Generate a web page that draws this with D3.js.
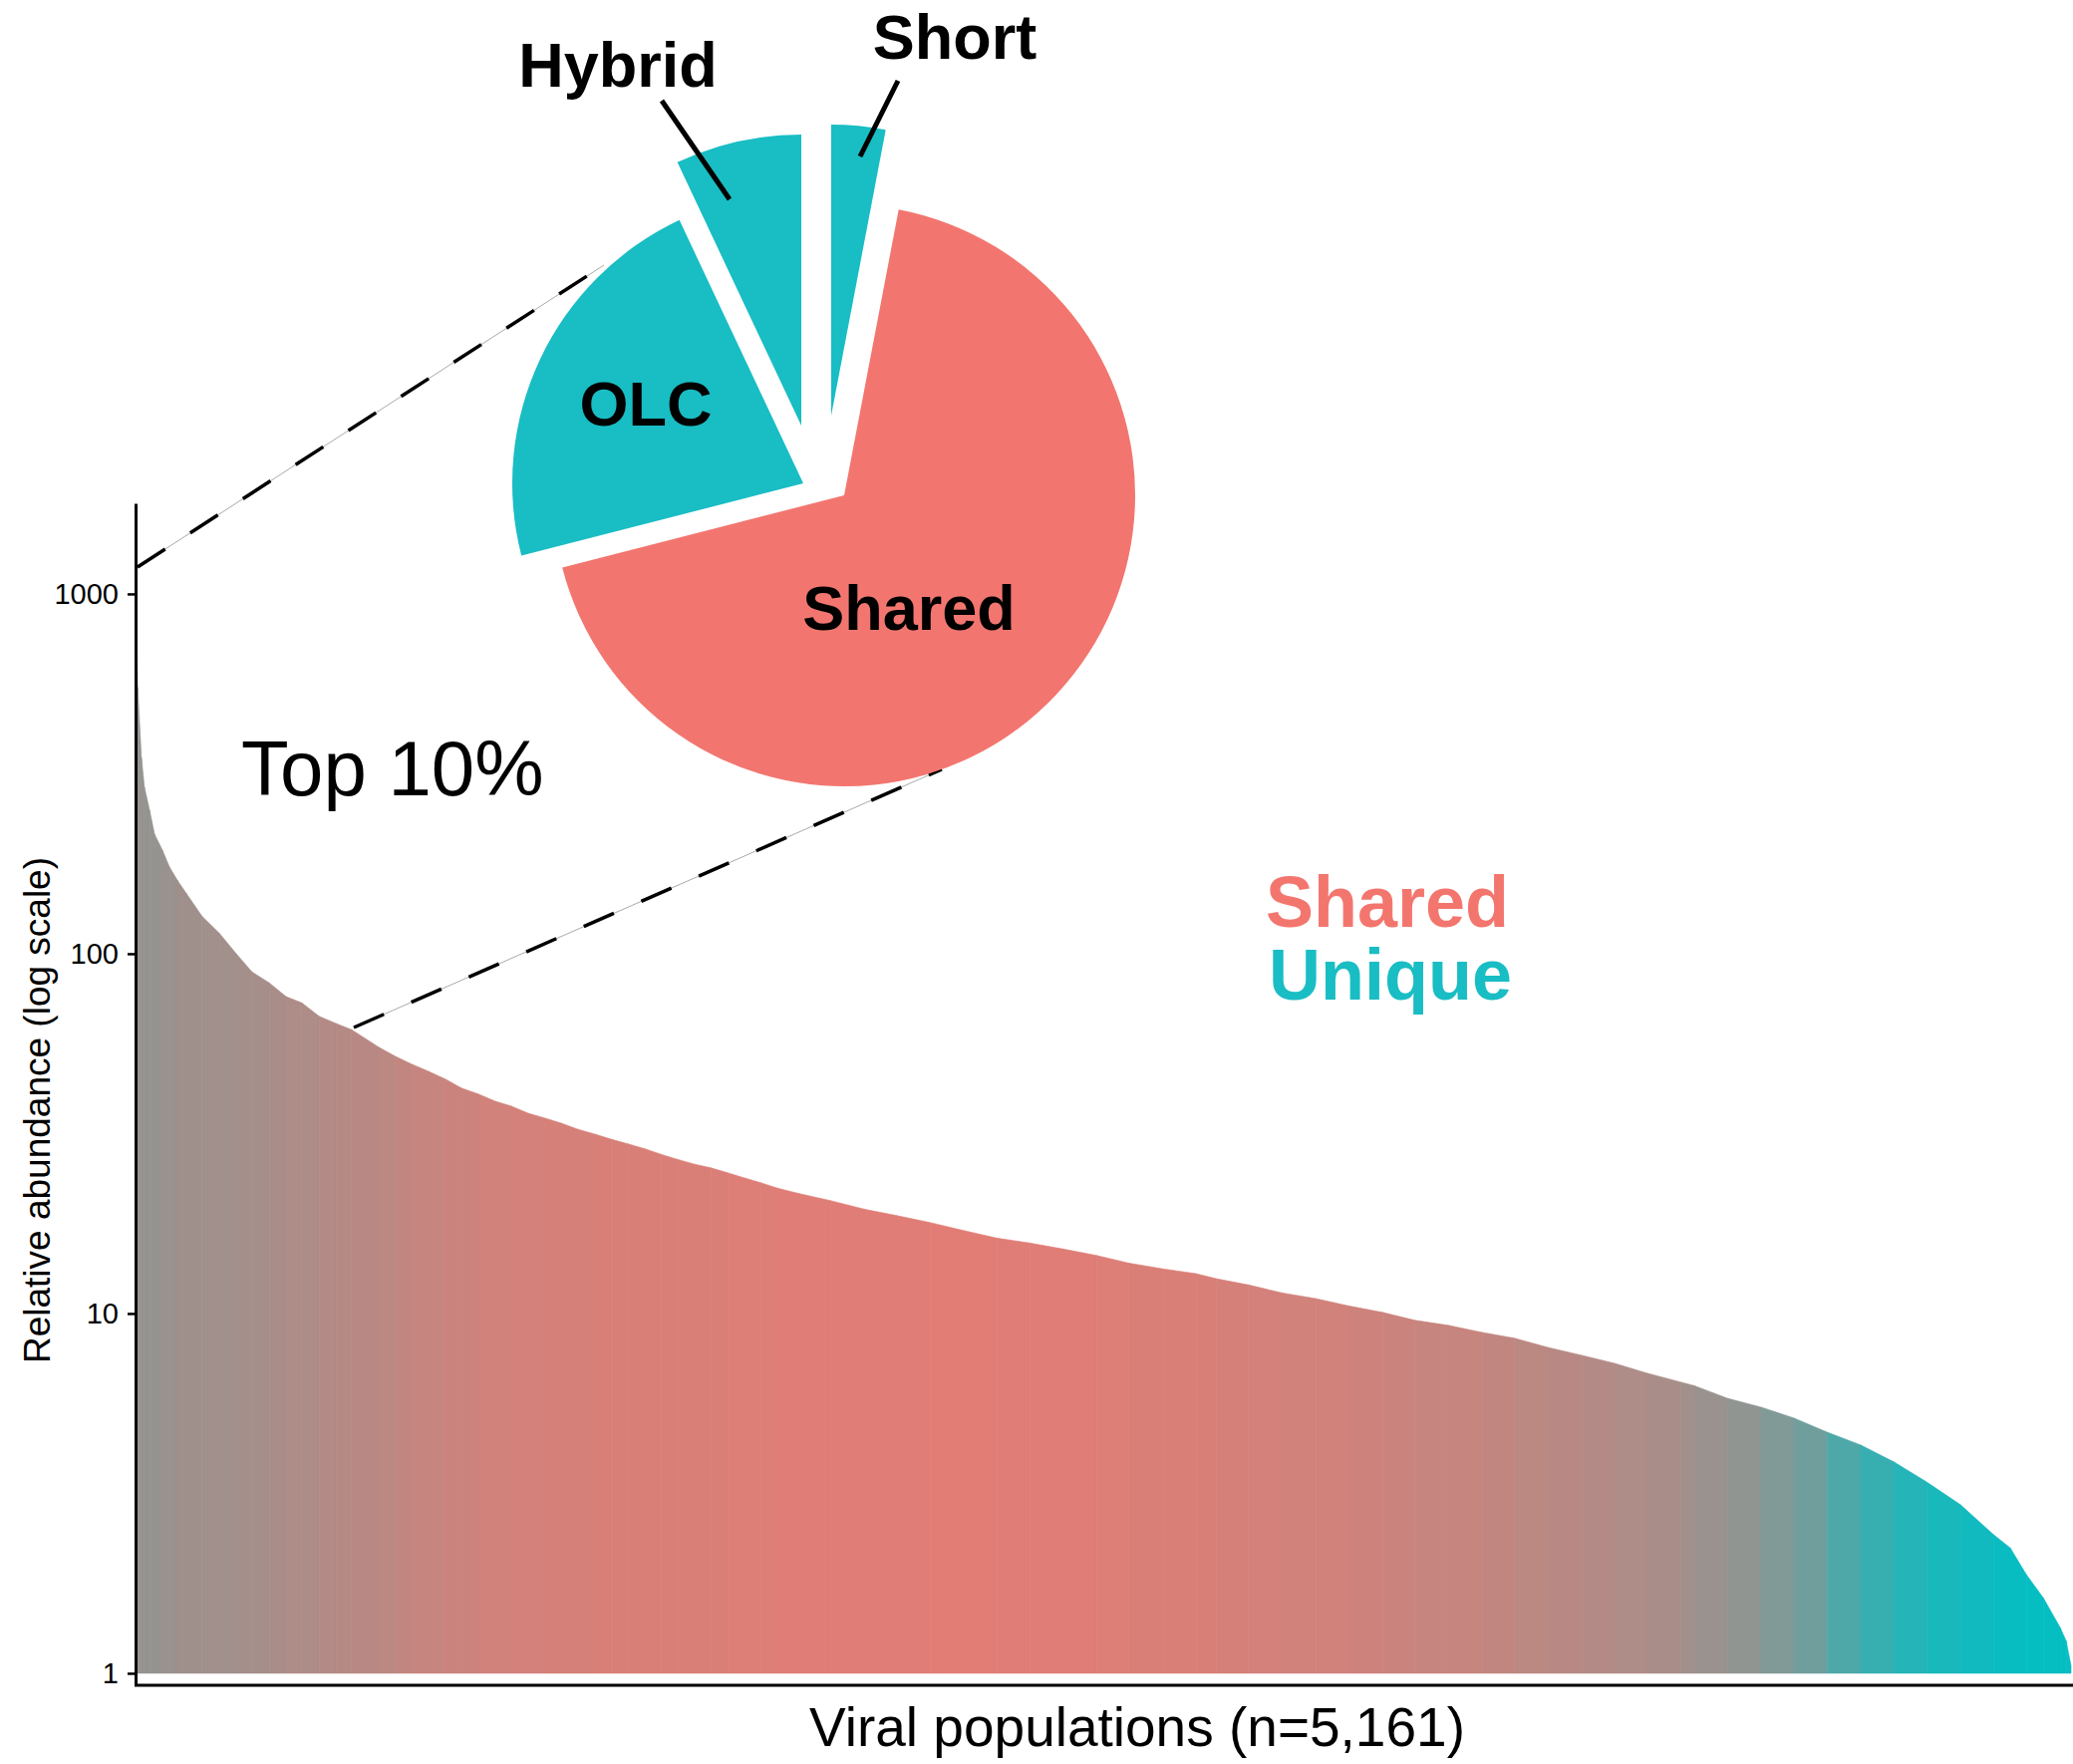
<!DOCTYPE html>
<html>
<head>
<meta charset="utf-8">
<script src="https://cdn.jsdelivr.net/npm/d3@7"></script>
<style>
  body { margin: 0; background: #fff; }
  text { font-family: "Liberation Sans", Arial, Helvetica, sans-serif; }
</style>
</head>
<body>
<div id="canvas"></div>
<script>
// rank-ordered abundance curve (rank of population, relative abundance)
const populationCount = 5161;
const ranks = [0, 1, 3, 13, 21, 35, 48, 69, 88, 109, 133, 175, 221, 266, 308, 354, 399, 441, 487, 532, 574,
  646, 691, 734, 779, 824, 867, 912, 957, 1000, 1045, 1090, 1133, 1178, 1223, 1266, 1311, 1356, 1399, 1444,
  1489, 1532, 1577, 1622, 1665, 1710, 1763, 1851, 1941, 2029, 2117, 2207, 2295, 2383, 2473, 2561, 2648, 2739,
  2827, 2880, 2967, 3058, 3146, 3233, 3324, 3411, 3499, 3590, 3677, 3765, 3856, 3943, 4031, 4121, 4156, 4244,
  4334, 4422, 4510, 4600, 4688, 4776, 4866, 4954, 4999, 5042, 5087, 5132, 5148, 5161];
const abundance = [900, 700, 550, 351, 290, 250, 215, 194, 174, 160, 147, 127, 114, 100, 89, 83, 76, 73, 67, 64, 61.5,
  55, 51.8, 49.3, 47.1, 44.8, 42.3, 40.7, 38.9, 37.7, 36, 34.9, 33.8, 32.5, 31.5, 30.5, 29.6, 28.7, 27.7, 26.8,
  26, 25.4, 24.6, 23.8, 23.1, 22.3, 21.6, 20.6, 19.5, 18.7, 17.9, 17, 16.2, 15.7, 15.1, 14.5, 13.8, 13.3,
  12.9, 12.5, 12.0, 11.4, 11.0, 10.5, 10.07, 9.57, 9.27, 8.86, 8.53, 8.05, 7.65, 7.27, 6.82, 6.44, 6.3, 5.81,
  5.49, 5.12, 4.68, 4.31, 3.87, 3.4, 2.94, 2.43, 2.23, 1.88, 1.62, 1.34, 1.23, 1.05];
// share of "Unique" populations in each stretch starting at that rank (estimated from the colours)
const uniqueShare = [0.5, 0.5, 0.4, 0.4, 0.4, 0.4, 0.4, 0.38, 0.38, 0.36, 0.36, 0.35, 0.35, 0.34, 0.33, 0.32, 0.3, 0.3, 0.28, 0.27, 0.26,
  0.24, 0.22, 0.2, 0.2, 0.18, 0.18, 0.16, 0.16, 0.15, 0.15, 0.14, 0.14, 0.14, 0.13, 0.13, 0.13, 0.12, 0.12, 0.12,
  0.12, 0.12, 0.11, 0.11, 0.11, 0.1, 0.1, 0.1, 0.1, 0.1, 0.09, 0.09, 0.1, 0.1, 0.1, 0.11, 0.12, 0.12,
  0.13, 0.14, 0.15, 0.16, 0.16, 0.17, 0.18, 0.2, 0.2, 0.22, 0.24, 0.26, 0.28, 0.3, 0.32, 0.35, 0.38, 0.42,
  0.48, 0.55, 0.68, 0.78, 0.85, 0.9, 0.93, 0.96, 0.97, 0.98, 0.98, 0.98, 0.98, 0.98];
const yTicks = [1, 10, 100, 1000];

// assembly method breakdown of the top 10% (pie), clockwise from 12 o'clock
const pieLabels = ["Short", "Shared", "OLC", "Hybrid"];
const pieValues = [3, 68, 22, 7];
const pieGroup = ["Unique", "Shared", "Unique", "Unique"];

const width = 2080;
const height = 1770;
const colShared = "#F8766D";
const colUnique = "#00BFC4";
const pieShared = "#F2766F";
const pieUnique = "#19BDC4";

const svg = d3.select("#canvas").append("svg")
  .attr("width", width)
  .attr("height", height);

const x = d3.scaleLinear().domain([0, populationCount]).range([137, 2078]);
const y = d3.scaleLog().domain([0.926, 1786]).range([1691, 505]);
const mix = d3.interpolateRgb(colShared, colUnique);

const points = ranks.map((r, i) => ({ rank: r, value: abundance[i], share: uniqueShare[i] }));

const area = d3.area()
  .x((d) => x(d.rank))
  .y0(y(1))
  .y1((d) => y(d.value));

const bars = svg.append("g");
for (let i = 0; i < points.length - 1; i++) {
  const c = mix(points[i].share);
  bars.append("path")
    .attr("d", area([points[i], points[i + 1]]))
    .attr("fill", c)
    .attr("stroke", c)
    .attr("stroke-width", 0.6);
}

// axes
const yAxis = svg.append("g")
  .attr("transform", "translate(136,0)")
  .call(d3.axisLeft(y).tickValues(yTicks).tickFormat(d3.format("d")).tickSize(8).tickSizeOuter(0));
yAxis.select(".domain").attr("stroke", "#000").attr("stroke-width", 3);
yAxis.selectAll(".tick line").attr("stroke", "#000").attr("stroke-width", 2.5);
yAxis.selectAll(".tick text")
  .attr("x", -17)
  .attr("font-size", 29)
  .attr("fill", "#000")
  .style("font-family", "'Liberation Sans', Arial, sans-serif");

svg.append("line")
  .attr("x1", 135).attr("x2", 2080)
  .attr("y1", 1691).attr("y2", 1691)
  .attr("stroke", "#000").attr("stroke-width", 3);

svg.append("text")
  .attr("transform", "translate(50,1114) rotate(-90)")
  .attr("text-anchor", "middle")
  .attr("font-size", 37)
  .text("Relative abundance (log scale)");

svg.append("text")
  .attr("x", 1141).attr("y", 1752)
  .attr("text-anchor", "middle")
  .attr("font-size", 55)
  .text("Viral populations (n=5,161)");

// zoom lines to pie
const zoomLines = [[[138, 569], [606, 266]], [[355, 1031], [945, 772]]];
zoomLines.forEach((l) => {
  svg.append("line")
    .attr("x1", l[0][0]).attr("y1", l[0][1]).attr("x2", l[1][0]).attr("y2", l[1][1])
    .attr("stroke", "#aaa").attr("stroke-width", 1);
  svg.append("line")
    .attr("x1", l[0][0]).attr("y1", l[0][1]).attr("x2", l[1][0]).attr("y2", l[1][1])
    .attr("stroke", "#000").attr("stroke-width", 3.5)
    .attr("stroke-dasharray", "33 30");
});

// exploded pie, each slice with its own tip position
const sliceTips = { Short: [834, 417], Shared: [847, 497], OLC: [806, 485], Hybrid: [804, 427] };
const pie = d3.pie().sort(null).value((d) => d.v);
const arc = d3.arc().innerRadius(0).outerRadius(292);
const slices = pie(pieLabels.map((l, i) => ({ label: l, v: pieValues[i], group: pieGroup[i] })));

svg.append("g").selectAll("path")
  .data(slices)
  .enter()
  .append("path")
  .attr("transform", (d) => `translate(${sliceTips[d.data.label][0]},${sliceTips[d.data.label][1]})`)
  .attr("d", arc)
  .attr("fill", (d) => (d.data.group === "Shared" ? pieShared : pieUnique));

const pieText = [
  { t: "Shared", x: 912, y: 632 },
  { t: "OLC", x: 648, y: 427 },
  { t: "Hybrid", x: 620, y: 87 },
  { t: "Short", x: 958, y: 59 }
];
pieText.forEach((p) => {
  svg.append("text")
    .attr("x", p.x).attr("y", p.y)
    .attr("text-anchor", "middle")
    .attr("font-size", 63)
    .attr("font-weight", "bold")
    .text(p.t);
});

// leader lines
[[[664, 101], [732, 200]], [[901, 81], [863, 157]]].forEach((l) => {
  svg.append("line")
    .attr("x1", l[0][0]).attr("y1", l[0][1]).attr("x2", l[1][0]).attr("y2", l[1][1])
    .attr("stroke", "#000").attr("stroke-width", 5);
});

svg.append("text")
  .attr("x", 242).attr("y", 798)
  .attr("font-size", 78)
  .text("Top 10%");

// colour key
svg.append("text")
  .attr("x", 1270).attr("y", 930)
  .attr("font-size", 72).attr("font-weight", "bold")
  .attr("fill", "#F3766E")
  .text("Shared");
svg.append("text")
  .attr("x", 1273).attr("y", 1003)
  .attr("font-size", 72).attr("font-weight", "bold")
  .attr("fill", "#19BDC4")
  .text("Unique");
</script>
</body>
</html>
